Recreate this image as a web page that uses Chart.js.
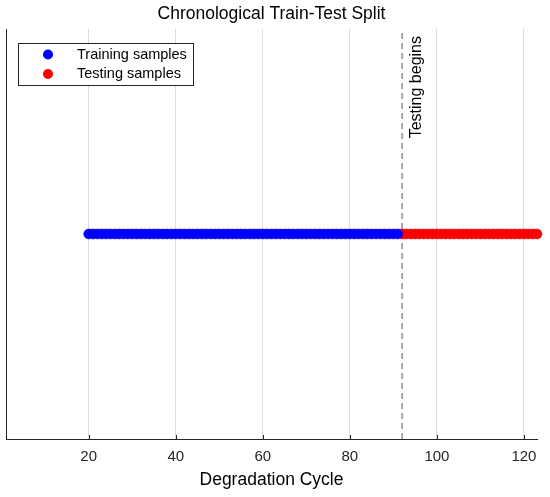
<!DOCTYPE html>
<html>
<head>
<meta charset="utf-8">
<script src="https://cdn.jsdelivr.net/npm/chart.js@4/dist/chart.umd.min.js"></script>
<style>
  html, body { margin: 0; padding: 0; background: #fff; }
  #wrap { width: 550px; height: 497px; }
</style>
</head>
<body>
<div id="wrap"><canvas id="chart"></canvas></div>
<script>
// cycles used for training / testing (chronological split)
var trainCycles = [20, 21, 22, 23, 24, 25, 26, 27, 28, 29, 30, 31, 32, 33, 34, 35, 36, 37, 38, 39,
  40, 41, 42, 43, 44, 45, 46, 47, 48, 49, 50, 51, 52, 53, 54, 55, 56, 57, 58, 59,
  60, 61, 62, 63, 64, 65, 66, 67, 68, 69, 70, 71, 72, 73, 74, 75, 76, 77, 78, 79,
  80, 81, 82, 83, 84, 85, 86, 87, 88, 89, 90, 91];
var testCycles = [92, 93, 94, 95, 96, 97, 98, 99, 100, 101, 102, 103, 104, 105, 106, 107,
  108, 109, 110, 111, 112, 113, 114, 115, 116, 117, 118, 119, 120, 121, 122, 123];
var sampleLevel = 1;
var splitCycle = 92;
var xTicks = [20, 40, 60, 80, 100, 120];
var xRange = [1, 123];
var yRange = [0, 2];

var FONT = "'Liberation Sans', Arial, Helvetica, sans-serif";
var AXIS = '#262626';

function toPoints(cycles) {
  return cycles.map(function (c) { return { x: c, y: sampleLevel }; });
}

// tick marks point inward like the original
var innerTicks = {
  id: 'innerTicks',
  afterDatasetsDraw: function (chart) {
    var ctx = chart.ctx, xs = chart.scales.x, area = chart.chartArea;
    ctx.save();
    ctx.strokeStyle = AXIS;
    ctx.lineWidth = 1;
    xTicks.forEach(function (v) {
      var px = Math.round(xs.getPixelForValue(v)) + 0.5;
      ctx.beginPath();
      ctx.moveTo(px, area.bottom);
      ctx.lineTo(px, area.bottom - 4);
      ctx.stroke();
    });
    ctx.restore();
  }
};

// split label + boxed legend inside the plot
var overlay = {
  id: 'overlay',
  afterDraw: function (chart) {
    var ctx = chart.ctx, area = chart.chartArea, xs = chart.scales.x;
    ctx.save();
    var px = xs.getPixelForValue(splitCycle);
    ctx.translate(px + 15, area.top + 7);
    ctx.rotate(-Math.PI / 2);
    ctx.fillStyle = '#000';
    ctx.font = '16px ' + FONT;
    ctx.textAlign = 'right';
    ctx.textBaseline = 'middle';
    ctx.fillText('Testing begins', 0, 0);
    ctx.restore();

    var items = chart.data.datasets.slice(0, 2);
    var bx = area.left + 12, by = area.top + 14, bw = 175, bh = 42;
    ctx.save();
    ctx.fillStyle = '#fff';
    ctx.fillRect(bx, by, bw, bh);
    ctx.strokeStyle = AXIS;
    ctx.lineWidth = 1;
    ctx.strokeRect(Math.round(bx) + 0.5, Math.round(by) + 0.5, bw, bh);
    ctx.font = '14.5px ' + FONT;
    ctx.textBaseline = 'middle';
    items.forEach(function (ds, i) {
      var cy = by + 11.5 + i * 19.5;
      ctx.beginPath();
      ctx.arc(bx + 30, cy, 5, 0, Math.PI * 2);
      ctx.fillStyle = ds.backgroundColor;
      ctx.fill();
      ctx.fillStyle = '#000';
      ctx.fillText(ds.label, bx + 59, cy);
    });
    ctx.restore();
  }
};

new Chart(document.getElementById('chart'), {
  type: 'scatter',
  data: {
    datasets: [
      {
        label: 'Training samples',
        data: toPoints(trainCycles),
        backgroundColor: '#0000ff',
        borderColor: '#0000e0',
        borderWidth: 0.5,
        pointRadius: 5,
        clip: false
      },
      {
        label: 'Testing samples',
        data: toPoints(testCycles),
        backgroundColor: '#ff0000',
        borderColor: '#e00000',
        borderWidth: 0.5,
        pointRadius: 5,
        clip: false
      },
      {
        label: 'split',
        type: 'line',
        data: [{ x: splitCycle, y: yRange[0] }, { x: splitCycle, y: yRange[1] }],
        borderColor: '#555',
        borderWidth: 1,
        borderDash: [6, 4],
        pointRadius: 0,
        fill: false
      }
    ]
  },
  options: {
    responsive: true,
    maintainAspectRatio: false,
    animation: false,
    layout: { padding: { left: 6, right: 13, top: 0, bottom: 6 } },
    plugins: {
      legend: { display: false },
      tooltip: { enabled: false },
      title: {
        display: true,
        text: 'Chronological Train-Test Split',
        color: '#000',
        font: { family: FONT, size: 17.5, weight: 'normal' },
        padding: { top: 4, bottom: 4 }
      }
    },
    scales: {
      x: {
        type: 'linear',
        min: xRange[0],
        max: xRange[1],
        afterBuildTicks: function (scale) {
          scale.ticks = xTicks.map(function (v) { return { value: v }; });
        },
        grid: { color: '#dcdcdc', drawTicks: false },
        border: { color: AXIS, width: 1 },
        ticks: { color: AXIS, padding: 9, font: { family: FONT, size: 15 } },
        title: {
          display: true,
          text: 'Degradation Cycle',
          color: '#000',
          font: { family: FONT, size: 17.5 },
          padding: { top: -5, bottom: 0 }
        }
      },
      y: {
        min: yRange[0],
        max: yRange[1],
        ticks: { display: false },
        grid: { display: false, drawTicks: false },
        border: { color: AXIS, width: 1 }
      }
    }
  },
  plugins: [innerTicks, overlay]
});
</script>
</body>
</html>
